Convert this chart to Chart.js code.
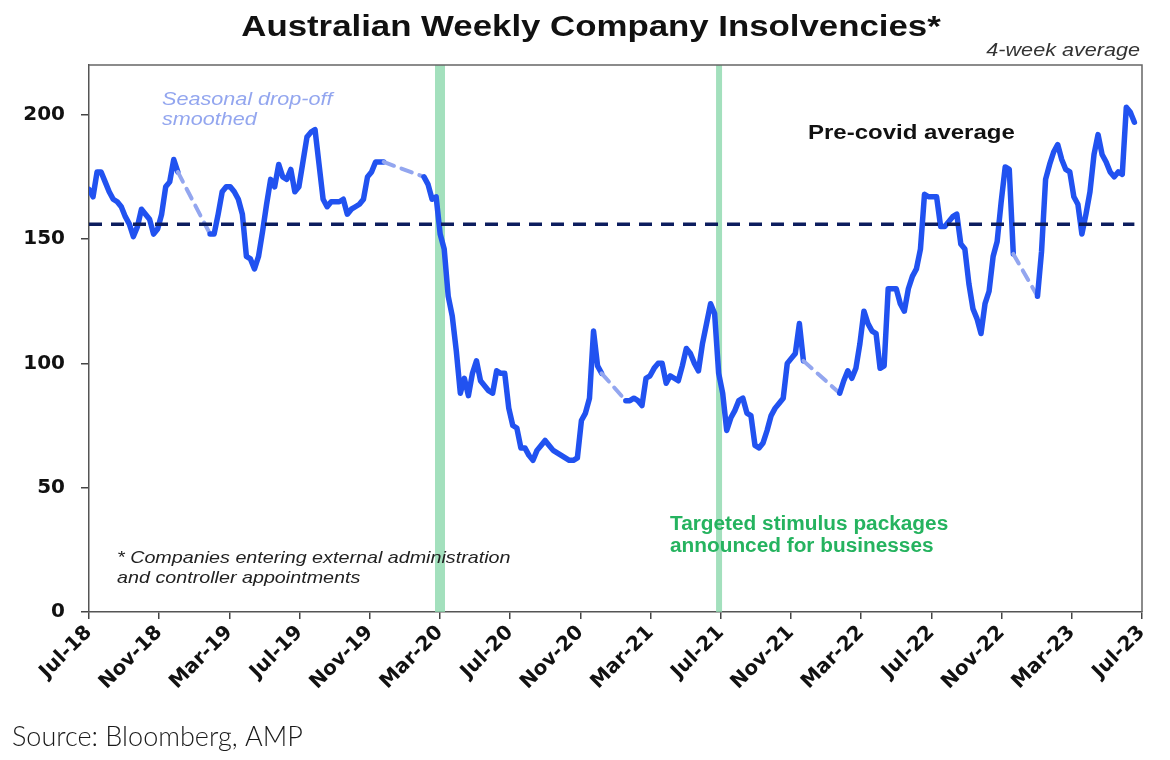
<!DOCTYPE html>
<html>
<head>
<meta charset="utf-8">
<script src="https://cdn.jsdelivr.net/npm/chart.js@4.4.0/dist/chart.umd.min.js"></script>
<style>
  html, body { margin: 0; padding: 0; background: #fff; }
  #wrap { width: 1170px; height: 760px; }
</style>
</head>
<body>
<div id="wrap"><canvas id="chart" width="1170" height="760"></canvas></div>
<script>
// x axis runs in months from Jul-18; one label every 4 months
const tickLabels = ['Jul-18', 'Nov-18', 'Mar-19', 'Jul-19', 'Nov-19', 'Mar-20', 'Jul-20', 'Nov-20',
  'Mar-21', 'Jul-21', 'Nov-21', 'Mar-22', 'Jul-22', 'Nov-22', 'Mar-23', 'Jul-23'];
const yTicks = [0, 50, 100, 150, 200];

// weekly insolvencies, 4-week average, from the first week of Jul-18
// null = seasonal drop-off smoothed (drawn dashed)
const weeklyInsolvencies = [
  170, 167, 177, 177, 173, 169, 166, 165, 163, 159,
  156, 151, 155, 162, 160, 158, 152, 154, 160, 171,
  173, 182, 177, null, null, null, null, null, null, null,
  152, 152, 160, 169, 171, 171, 169, 166, 160, 143,
  142, 138, 143, 153, 164, 174, 171, 180, 175, 174,
  178, 169, 171, 181, 191, 193, 194, 180, 166, 163,
  165, 165, 165, 166, 160, 162, 163, 164, 166, 175,
  177, 181, 181, 181, null, null, null, null, null, null,
  null, null, null, 175, 172, 166, 167, 152, 146, 127,
  119, 105, 88, 94, 87, 96, 101, 93, 91, 89,
  88, 97, 96, 96, 82, 75, 74, 66, 66, 63,
  61, 65, 67, 69, 67, 65, 64, 63, 62, 61,
  61, 62, 77, 80, 86, 113, 99, 96, null, null,
  null, null, null, 85, 85, 86, 85, 83, 94, 95,
  98, 100, 100, 92, 95, 94, 93, 99, 106, 104,
  100, 97, 108, 116, 124, 120, 96, 88, 73, 78,
  81, 85, 86, 80, 79, 67, 66, 68, 73, 79,
  82, 84, 86, 100, 102, 104, 116, 101, null, null,
  null, null, null, null, null, null, 88, 93, 97, 94,
  98, 108, 121, 116, 113, 112, 98, 99, 130, 130,
  130, 124, 121, 130, 135, 138, 146, 168, 167, 167,
  167, 155, 155, 157, 159, 160, 148, 146, 132, 122,
  118, 112, 124, 129, 143, 149, 165, 179, 178, 144,
  null, null, null, null, null, 127, 145, 174, 180, 185,
  188, 182, 178, 177, 167, 164, 152, 160, 169, 184,
  192, 184, 181, 177, 175, 177, 176, 203, 201, 197
];

const preCovidAverage = 156;
// Mar-20 (covid) and late Jun-21 (targeted stimulus), months from Jul-18
const eventMonths = [20, 35.9];

const WEEKS_PER_MONTH = 52.1775 / 12;
const FONT = '"Liberation Sans", Arial, sans-serif';
const TICK_FONT = '"DejaVu Sans", Verdana, sans-serif';
const LINE_BLUE = '#2152f0';
const SMOOTH_BLUE = '#93a6ef';
const WIDE = 1.2; // the original lettering is stretched sideways

const seriesPoints = weeklyInsolvencies.map((v, i) => ({ x: i / WEEKS_PER_MONTH, y: v }));
const lastX = (weeklyInsolvencies.length - 1) / WEEKS_PER_MONTH;
const avgPoints = [{ x: 0, y: preCovidAverage }, { x: lastX, y: preCovidAverage }];

const smoothed = (ctx, value) => (ctx.p0.skip || ctx.p1.skip) ? value : undefined;

function drawText(ctx, text, x, y, font, color, align, scaleX) {
  ctx.save();
  ctx.font = font;
  ctx.fillStyle = color;
  ctx.textAlign = align || 'left';
  ctx.textBaseline = 'middle';
  ctx.translate(x, y);
  ctx.scale(scaleX || 1, 1);
  ctx.fillText(text, 0, 0);
  ctx.restore();
}

const decor = {
  id: 'decor',
  beforeDatasetsDraw(chart) {
    const { ctx, chartArea, scales } = chart;
    const widths = [10, 6];
    ctx.save();
    ctx.fillStyle = 'rgba(140, 216, 172, 0.8)';
    eventMonths.forEach((m, i) => {
      const px = scales.x.getPixelForValue(m);
      ctx.fillRect(px - widths[i] / 2, chartArea.top, widths[i], chartArea.bottom - chartArea.top);
    });
    ctx.restore();
  },
  afterDraw(chart) {
    const { ctx, chartArea } = chart;
    ctx.save();
    ctx.strokeStyle = '#666';
    ctx.lineWidth = 1.5;
    ctx.beginPath();
    ctx.moveTo(chartArea.left, chartArea.top);
    ctx.lineTo(chartArea.right, chartArea.top);
    ctx.lineTo(chartArea.right, chartArea.bottom);
    ctx.stroke();
    ctx.restore();

    drawText(ctx, 'Australian Weekly Company Insolvencies*', 591, 28, 'bold 29px ' + FONT, '#111', 'center', WIDE);
    drawText(ctx, '4-week average', 1140, 51, 'italic 18px ' + FONT, '#333', 'right', WIDE);
    drawText(ctx, 'Seasonal drop-off', 162, 100, 'italic 18px ' + FONT, SMOOTH_BLUE, 'left', WIDE);
    drawText(ctx, 'smoothed', 162, 120, 'italic 18px ' + FONT, SMOOTH_BLUE, 'left', WIDE);
    drawText(ctx, 'Pre-covid average', 808, 133, 'bold 20px ' + FONT, '#111', 'left', WIDE);
    drawText(ctx, 'Targeted stimulus packages', 670, 524, 'bold 20px ' + FONT, '#25b35f', 'left', 1.04);
    drawText(ctx, 'announced for businesses', 670, 546, 'bold 20px ' + FONT, '#25b35f', 'left', 1.04);
    drawText(ctx, '* Companies entering external administration', 117, 558, 'italic 17px ' + FONT, '#222', 'left', 1.16);
    drawText(ctx, 'and controller appointments', 117, 578, 'italic 17px ' + FONT, '#222', 'left', 1.16);
    drawText(ctx, 'Source: Bloomberg, AMP', 12, 737, '300 27px Lato, "Open Sans", sans-serif', '#1a1a1a');
  }
};

new Chart(document.getElementById('chart'), {
  type: 'line',
  data: {
    datasets: [
      {
        label: 'Pre-covid average',
        data: avgPoints,
        borderColor: '#0c1d5e',
        borderWidth: 3.5,
        borderDash: [13, 9],
        pointRadius: 0
      },
      {
        label: 'Insolvencies',
        data: seriesPoints,
        borderColor: LINE_BLUE,
        borderWidth: 5.5,
        borderJoinStyle: 'round',
        borderCapStyle: 'round',
        pointRadius: 0,
        tension: 0,
        spanGaps: true,
        segment: {
          borderColor: ctx => smoothed(ctx, SMOOTH_BLUE),
          borderDash: ctx => smoothed(ctx, [11, 8]),
          borderWidth: ctx => smoothed(ctx, 4)
        }
      }
    ]
  },
  options: {
    responsive: false,
    animation: false,
    layout: { padding: { top: 65, right: 28, left: 0, bottom: 0 } },
    plugins: {
      legend: { display: false },
      title: { display: false },
      tooltip: { enabled: false }
    },
    scales: {
      x: {
        type: 'linear',
        min: 0,
        max: (tickLabels.length - 1) * 4,
        afterFit: s => { s.height = 148; },
        grid: { drawOnChartArea: false, tickLength: 7, color: '#444', lineWidth: 1.5 },
        border: { color: '#555', width: 1.5 },
        ticks: {
          stepSize: 4,
          autoSkip: false,
          maxRotation: 45,
          minRotation: 45,
          padding: 2,
          color: '#111',
          font: { family: TICK_FONT, size: 20, weight: 'bold' },
          callback: v => tickLabels[v / 4]
        }
      },
      y: {
        min: 0,
        max: 220,
        afterFit: s => { s.width = 89; },
        afterBuildTicks: s => { s.ticks = yTicks.map(v => ({ value: v })); },
        grid: { drawOnChartArea: false, tickLength: 8, color: '#444', lineWidth: 1.5 },
        border: { color: '#555', width: 1.5 },
        ticks: {
          padding: 16,
          color: '#111',
          font: { family: TICK_FONT, size: 20, weight: 'bold' }
        }
      }
    }
  },
  plugins: [decor]
});
</script>
</body>
</html>
